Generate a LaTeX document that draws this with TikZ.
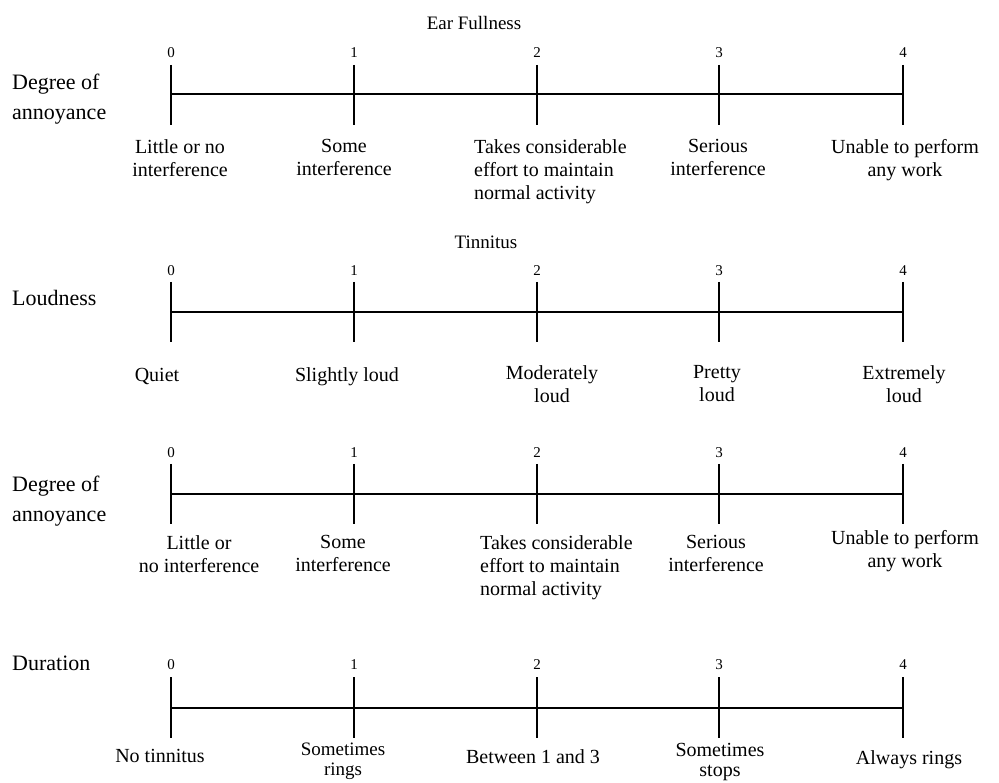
\documentclass[tikz,border=0pt]{standalone}
\usepackage{fontspec}
\setmainfont{Liberation Serif}
\begin{document}
\begin{tikzpicture}[x=1pt,y=-1pt,
  lab/.style={font=\fontsize{20}{23}\selectfont, inner sep=0pt, align=center, anchor=north, execute at begin node=\strut},
  labl/.style={font=\fontsize{20}{23}\selectfont, inner sep=0pt, align=left, anchor=north west, execute at begin node=\strut},
  tight/.style={font=\fontsize{20}{20}\selectfont, inner sep=0pt, align=center, anchor=north, execute at begin node=\strut},
  tighter/.style={font=\fontsize{19}{20}\selectfont, inner sep=0pt, align=center, anchor=north, execute at begin node=\strut},
  side/.style={font=\fontsize{22}{30}\selectfont, inner sep=0pt, align=left, anchor=north west},
  sidew/.style={font=\fontsize{22}{30}\selectfont, inner sep=0pt, anchor=west},
  num/.style={font=\fontsize{15}{18}\selectfont, inner sep=0pt},
  ttl/.style={font=\fontsize{19}{22}\selectfont, inner sep=0pt},
  rule/.style={line width=1.3pt}]
\useasboundingbox (0,0) rectangle (999,783);

% ---------- Scale 1: Ear Fullness ----------
\node[ttl] (t1) at (474,23) {Ear Fullness};
\node[side] (s1) at (12,74) {Degree of\\annoyance};
\foreach \i/\x in {0/171,1/354,2/537,3/719,4/903} {
  \node[num] (a\i) at (\x,53) {\i};
  \coordinate (at\i) at (\x,65);
  \coordinate (ab\i) at (\x,125);
  \coordinate (am\i) at (\x,94);
  \draw[rule] (at\i) -- (ab\i);
}
\draw[rule] (am0) -- (am4);
\node[lab] (la0) at (180,139) {Little or no\\interference};
\node[lab] (la1) at (344,139) {Some\\interference};
\node[labl] (la2) at (474,139) {Takes considerable\\effort to maintain\\normal activity};
\node[lab] (la3) at (718,139) {Serious\\interference};
\node[lab] (la4) at (905,139) {Unable to perform\\any work};

% ---------- Scale 2: Tinnitus loudness ----------
\node[ttl] (t2) at (486,242) {Tinnitus};
\node[sidew] (s2) at (12,298) {Loudness};
\foreach \i/\x in {0/171,1/354,2/537,3/719,4/903} {
  \node[num] (b\i) at (\x,271) {\i};
  \coordinate (bt\i) at (\x,282);
  \coordinate (bb\i) at (\x,342);
  \coordinate (bm\i) at (\x,312);
  \draw[rule] (bt\i) -- (bb\i);
}
\draw[rule] (bm0) -- (bm4);
\node[lab] (lb0) at (157,365) {Quiet};
\node[lab] (lb1) at (347,365) {Slightly loud};
\node[lab] (lb2) at (552,365) {Moderately\\loud};
\node[lab] (lb3) at (717,365) {Pretty\\loud};
\node[lab] (lb4) at (904,365) {Extremely\\loud};

% ---------- Scale 3: Degree of annoyance ----------
\node[side] (s3) at (12,476) {Degree of\\annoyance};
\foreach \i/\x in {0/171,1/354,2/537,3/719,4/903} {
  \node[num] (c\i) at (\x,453) {\i};
  \coordinate (ct\i) at (\x,464);
  \coordinate (cb\i) at (\x,524);
  \coordinate (cm\i) at (\x,494);
  \draw[rule] (ct\i) -- (cb\i);
}
\draw[rule] (cm0) -- (cm4);
\node[lab] (lc0) at (199,535) {Little or\\no interference};
\node[lab] (lc1) at (343,535) {Some\\interference};
\node[labl] (lc2) at (480,535) {Takes considerable\\effort to maintain\\normal activity};
\node[lab] (lc3) at (716,535) {Serious\\interference};
\node[lab] (lc4) at (905,530) {Unable to perform\\any work};

% ---------- Scale 4: Duration ----------
\node[sidew] (s4) at (12,663) {Duration};
\foreach \i/\x in {0/171,1/354,2/537,3/719,4/903} {
  \node[num] (d\i) at (\x,665) {\i};
  \coordinate (dt\i) at (\x,677);
  \coordinate (db\i) at (\x,738);
  \coordinate (dm\i) at (\x,708);
  \draw[rule] (dt\i) -- (db\i);
}
\draw[rule] (dm0) -- (dm4);
\node[lab] (ld0) at (160,746) {No tinnitus};
\node[tighter] (ld1) at (343,743) {Sometimes\\rings};
\node[lab] (ld2) at (533,747) {Between 1 and 3};
\node[tight] (ld3) at (720,743) {Sometimes\\stops};
\node[lab] (ld4) at (909,748) {Always rings};
\end{tikzpicture}
\end{document}
